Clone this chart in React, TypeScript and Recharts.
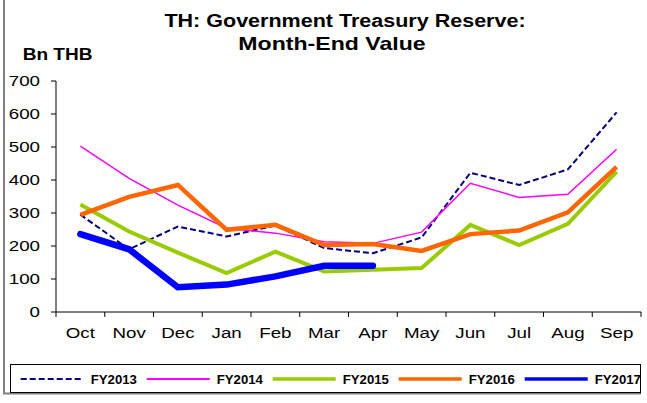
import React from 'react';
import { LineChart, Line, XAxis, YAxis, ReferenceLine } from 'recharts';

const months = ['Oct', 'Nov', 'Dec', 'Jan', 'Feb', 'Mar', 'Apr', 'May', 'Jun', 'Jul', 'Aug', 'Sep'];
const fy2013 = [295, 190, 259, 229, 262, 194, 178, 226, 422, 385, 432, 605];
const fy2014 = [503, 405, 324, 254, 239, 213, 208, 242, 390, 347, 357, 493];
const fy2015 = [326, 244, 180, 118, 183, 123, 128, 133, 264, 203, 267, 425];
const fy2016 = [294, 349, 385, 249, 264, 203, 206, 185, 236, 247, 302, 440];
const fy2017 = [236, 190, 75, 83, 108, 140, 140, null, null, null, null, null];
const yTicks = [0, 100, 200, 300, 400, 500, 600, 700];

const series = [
  { key: 'FY2013', color: '#000080', width: 2, dash: '6 3' },
  { key: 'FY2014', color: '#FF00FF', width: 1.5, dash: undefined },
  { key: 'FY2015', color: '#99CC00', width: 4, dash: undefined },
  { key: 'FY2016', color: '#FF6600', width: 4.5, dash: undefined },
  { key: 'FY2017', color: '#0000FF', width: 6.5, dash: undefined },
];

const data = months.map((m, i) => ({
  idx: i,
  month: m,
  FY2013: fy2013[i],
  FY2014: fy2014[i],
  FY2015: fy2015[i],
  FY2016: fy2016[i],
  FY2017: fy2017[i],
}));

// category boundaries for the x tick marks
const boundaries = [...months.map((_, i) => i - 0.5), months.length - 0.5];

const FONT = "Arial, 'Liberation Sans', sans-serif";

const YTick = (props: any) => {
  const { x, y, payload } = props;
  return (
    <g transform={`translate(${x},${y})`}>
      <text x={0} y={0} dy={5} textAnchor="end" fontSize={15} fontFamily={FONT} fill="#000" transform="scale(1.25,1)">
        {payload.value}
      </text>
    </g>
  );
};

const XTick = (props: any) => {
  const { x, y, payload } = props;
  return (
    <g transform={`translate(${x},${y})`}>
      <text x={0} y={0} dy={26} textAnchor="middle" fontSize={15} fontFamily={FONT} fill="#000" transform="scale(1.25,1)">
        {months[payload.value]}
      </text>
    </g>
  );
};

export default function App() {
  return (
    <div style={{ position: 'absolute', left: 0, top: 0, width: 647, height: 403, background: '#fff' }}>
      <LineChart width={647} height={403} data={data} margin={{ top: 81, right: 6, left: 0, bottom: 61 }}>
        <XAxis
          dataKey="idx"
          type="number"
          domain={[-0.5, 11.5]}
          ticks={months.map((_, i) => i)}
          interval={0}
          tickLine={false}
          tickSize={0}
          tickMargin={0}
          height={30}
          axisLine={{ stroke: '#000', strokeWidth: 1 }}
          tick={<XTick />}
        />
        <YAxis
          domain={[0, 700]}
          ticks={yTicks}
          interval={0}
          width={56}
          tickSize={5}
          tickMargin={11}
          axisLine={{ stroke: '#000', strokeWidth: 1 }}
          tickLine={{ stroke: '#000', strokeWidth: 1 }}
          tick={<YTick />}
        />
        {boundaries.map((b) => (
          <ReferenceLine
            key={b}
            segment={[{ x: b, y: 0 }, { x: b, y: -15 }]}
            stroke="#000"
            strokeWidth={1}
            ifOverflow="visible"
          />
        ))}
        {series.map((s) => (
          <Line
            key={s.key}
            dataKey={s.key}
            type="linear"
            stroke={s.color}
            strokeWidth={s.width}
            strokeDasharray={s.dash}
            strokeLinecap={s.key === 'FY2017' ? 'round' : 'butt'}
            dot={false}
            activeDot={false}
            isAnimationActive={false}
          />
        ))}
      </LineChart>
      <svg width={647} height={403} style={{ position: 'absolute', left: 0, top: 0, pointerEvents: 'none' }}>
        <line x1={4} y1={0} x2={4} y2={394} stroke="#808080" strokeWidth={2} />
        <text transform="translate(345,26.7) scale(1.23,1)" textAnchor="middle" fontFamily={FONT} fontWeight="bold" fontSize={17.5} fill="#000">
          TH: Government Treasury Reserve:
        </text>
        <text transform="translate(332,49.5) scale(1.32,1)" textAnchor="middle" fontFamily={FONT} fontWeight="bold" fontSize={17.5} fill="#000">
          Month-End Value
        </text>
        <text transform="translate(22.7,60) scale(1.19,1)" fontFamily={FONT} fontWeight="bold" fontSize={16} fill="#000">
          Bn THB
        </text>
        <line x1={3} y1={393.5} x2={641} y2={393.5} stroke="#808080" strokeWidth={2} />
        <rect x={10.5} y={364.5} width={630} height={28} fill="#fff" stroke="#000" strokeWidth={1} />
        {series.map((s, i) => {
          const tx = 90.7 + i * 126;
          return (
            <g key={s.key}>
              <line
                x1={tx - 70}
                y1={379}
                x2={tx - 7}
                y2={379}
                stroke={s.color}
                strokeWidth={s.key === 'FY2014' ? 2 : s.key === 'FY2013' ? 2 : 3.5}
                strokeDasharray={s.dash}
              />
              <text transform={`translate(${tx},383.5) scale(1.1,1)`} fontFamily={FONT} fontWeight="bold" fontSize={12} fill="#000">
                {s.key}
              </text>
            </g>
          );
        })}
      </svg>
    </div>
  );
}
